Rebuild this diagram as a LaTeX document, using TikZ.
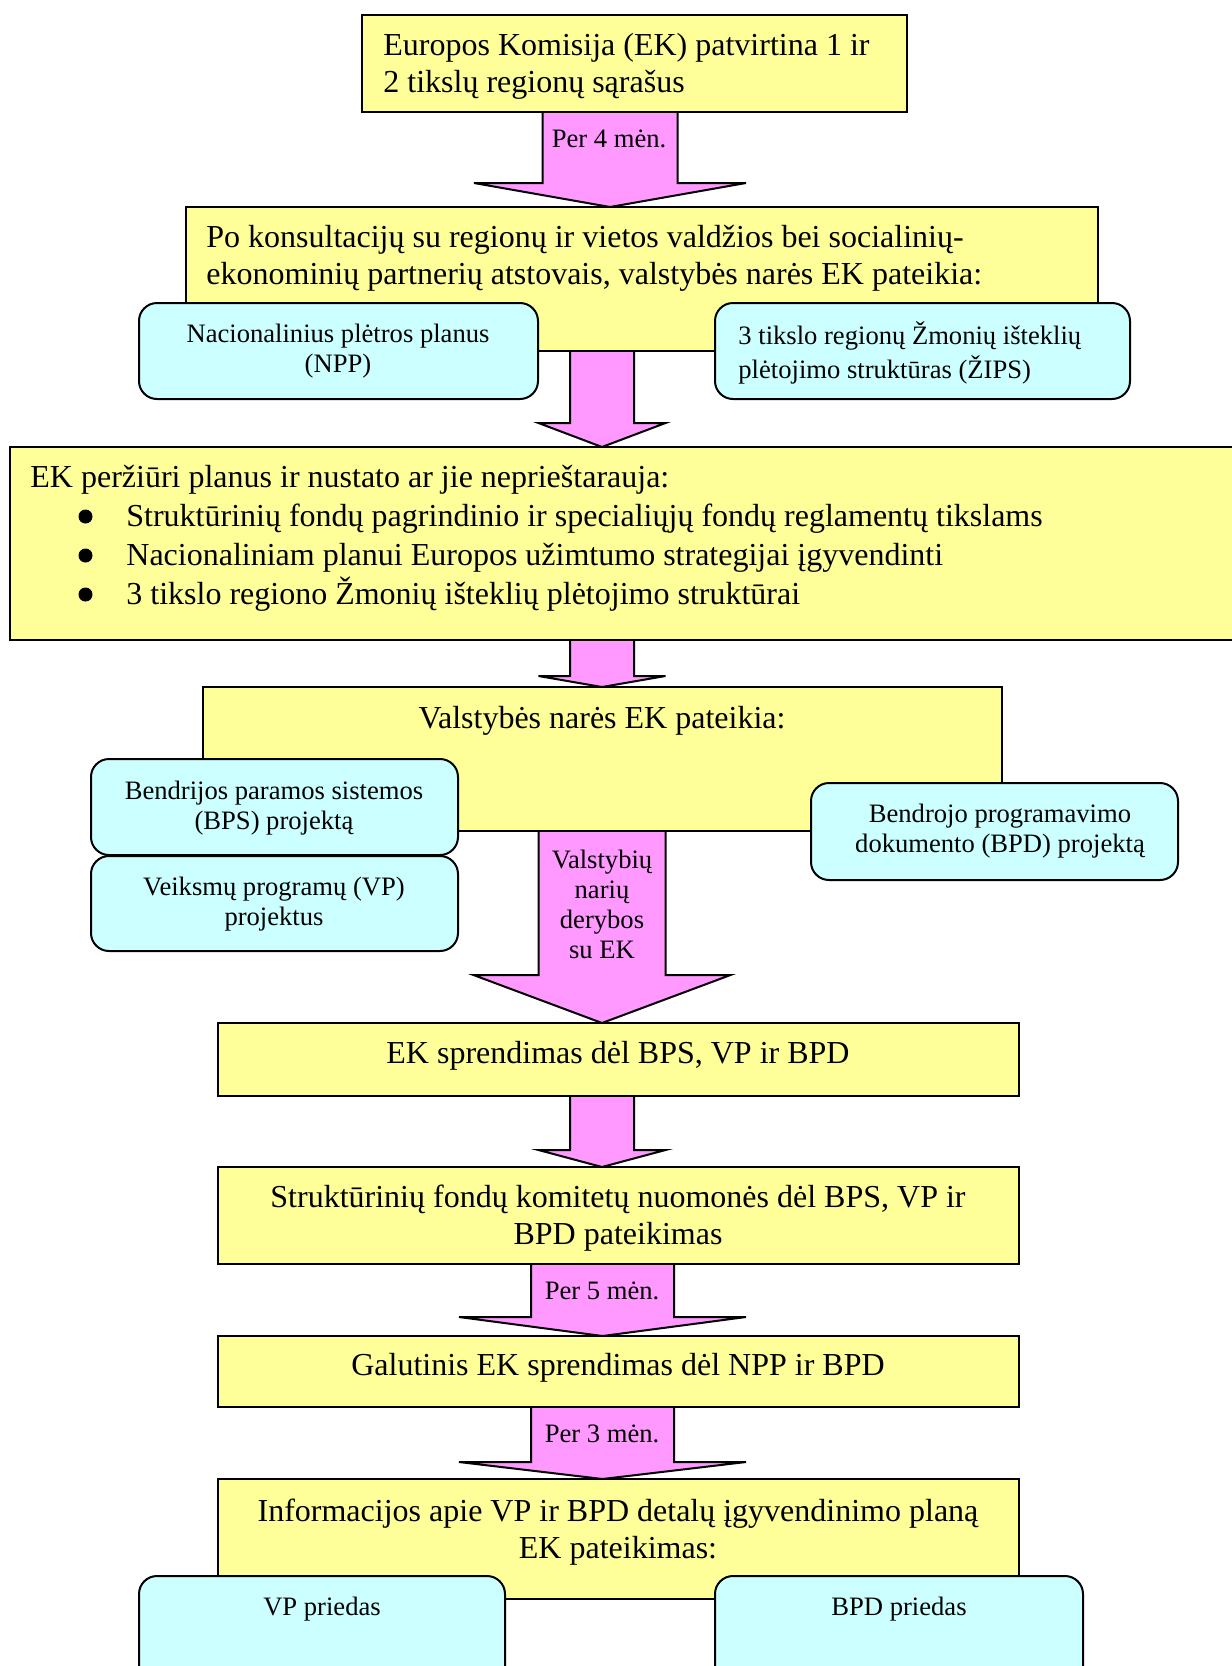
\documentclass[tikz,border=0pt]{standalone}
\usepackage{fontspec}
\setmainfont{Liberation Serif}
\usetikzlibrary{calc,backgrounds}
\definecolor{boxyellow}{HTML}{FFFF99}
\definecolor{arrowpink}{HTML}{FF99FF}
\definecolor{boxcyan}{HTML}{CCFFFF}
\tikzset{
  ybox/.style={draw=black, fill=boxyellow, line width=1pt, rectangle, inner sep=0pt, outer sep=0pt, anchor=north west},
  cbox/.style={draw=black, fill=boxcyan, line width=1pt, rectangle, rounded corners=9pt, inner sep=0pt, outer sep=0pt, anchor=north west},
  barrow/.style={draw=black, fill=arrowpink, line width=1pt, line join=miter},
  bigtext/.style={font=\fontsize{16}{18.5}\selectfont, inner sep=0pt},
  smalltext/.style={font=\fontsize{13.3}{15}\selectfont, inner sep=0pt},
  bulletdot/.style={circle, fill=black, draw=none, minimum size=7pt, inner sep=0pt},
}
% style, name, x1, y1, x2, y2 (px, y downwards)
\newcommand{\mkbox}[6]{%
  \node[#1, minimum width={(#5-#3)*0.5pt}, minimum height={(#6-#4)*0.5pt}] (#2) at (#3,#4) {};}
% name, from, to, axis x, shaft half width, head half width, head length
\newcommand{\blockarrow}[7]{%
  \coordinate (#1) at (#4,0);
  \filldraw[barrow] ($(#2.south -| #1)+(-#5,0)$) -- ($(#3.north -| #1)+(-#5,-#7)$)
    -- ($(#3.north -| #1)+(-#6,-#7)$) -- (#3.north -| #1)
    -- ($(#3.north -| #1)+(#6,-#7)$) -- ($(#3.north -| #1)+(#5,-#7)$)
    -- ($(#2.south -| #1)+(#5,0)$);}
\begin{document}
\begin{tikzpicture}[x=0.5pt,y=-0.5pt]
\useasboundingbox (0,0) rectangle (1232,1666);
\clip (0,0) rectangle (1232,1666);
% yellow boxes
\mkbox{ybox}{B1}{362}{15}{907}{112}
\mkbox{ybox}{B2}{186}{207}{1098}{351}
\mkbox{ybox}{B3}{10}{447}{1250}{640}
\mkbox{ybox}{B4}{203}{687}{1002}{831}
\mkbox{ybox}{B5}{218}{1023}{1019}{1096}
\mkbox{ybox}{B6}{218}{1167}{1019}{1264}
\mkbox{ybox}{B7}{218}{1336}{1019}{1407}
\mkbox{ybox}{B8}{218}{1479}{1019}{1599}
% cyan boxes
\mkbox{cbox}{C1}{139}{303}{538}{399}
\mkbox{cbox}{C2}{715}{303}{1130}{399}
\mkbox{cbox}{C3}{91}{759}{458}{855}
\mkbox{cbox}{C4}{91}{856}{458}{951}
\mkbox{cbox}{C5}{811}{783}{1178}{880}
\mkbox{cbox}{C6}{139}{1576}{505}{1700}
\mkbox{cbox}{C7}{715}{1576}{1083}{1700}
% block arrows
\begin{scope}[on background layer]
\blockarrow{ax1}{B1}{B2}{610}{67.5}{136}{24}
\blockarrow{ax2}{B2}{B3}{602}{32}{63.5}{24}
\blockarrow{ax3}{B3}{B4}{602}{32}{63.5}{11}
\blockarrow{ax4}{B4}{B5}{602}{63.5}{128.5}{48}
\blockarrow{ax5}{B5}{B6}{602}{32}{63.5}{17}
\blockarrow{ax6}{B6}{B7}{602.5}{71.5}{143.5}{19}
\blockarrow{ax7}{B7}{B8}{602.5}{71.5}{143.5}{17}
\end{scope}
% texts
\node[bigtext, anchor=north west, align=left] (t1) at (383,29) {\strut Europos Komisija (EK) patvirtina 1 ir\\2 tikslų regionų sąrašus};
\node[smalltext, anchor=base] (l1) at (609,147) {Per 4 mėn.};
\node[bigtext, anchor=north west, align=left] (t2) at (206,221) {\strut Po konsultacijų su regionų ir vietos valdžios bei socialinių-\\ekonominių partnerių atstovais, valstybės narės EK pateikia:};
\node[smalltext, anchor=north, align=center] (c1t) at (338,321) {\strut Nacionalinius plėtros planus\\(NPP)};
\node[smalltext, anchor=north west, align=left] (c2t) at (738,321) {\strut 3 tikslo regionų Žmonių išteklių\\plėtojimo struktūras (ŽIPS)};
\node[bigtext, anchor=base west] (t3) at (30,487) {EK peržiūri planus ir nustato ar jie neprieštarauja:};
\node[bulletdot] (d1) at (85.5,516.5) {};
\node[bigtext, anchor=base west] (i1) at (126,526) {Struktūrinių fondų pagrindinio ir specialiųjų fondų reglamentų tikslams};
\node[bulletdot] (d2) at (85.5,555.5) {};
\node[bigtext, anchor=base west] (i2) at (126,565) {Nacionaliniam planui Europos užimtumo strategijai įgyvendinti};
\node[bulletdot] (d3) at (85.5,594.5) {};
\node[bigtext, anchor=base west] (i3) at (126,604) {3 tikslo regiono Žmonių išteklių plėtojimo struktūrai};
\node[bigtext, anchor=base] (t4) at (602,728) {Valstybės narės EK pateikia:};
\node[smalltext, anchor=north, align=center] (c3t) at (274,778) {\strut Bendrijos paramos sistemos\\(BPS) projektą};
\node[smalltext, anchor=north, align=center] (c4t) at (274,874) {\strut Veiksmų programų (VP)\\projektus};
\node[smalltext, anchor=north, align=center] (c5t) at (1000,801) {\strut Bendrojo programavimo\\dokumento (BPD) projektą};
\node[smalltext, anchor=north, align=center] (l4) at (602,847) {\strut Valstybių\\narių\\derybos\\su EK};
\node[bigtext, anchor=base] (t5) at (618,1063) {EK sprendimas dėl BPS, VP ir BPD};
\node[bigtext, anchor=north, align=center] (t6) at (618,1181) {\strut Struktūrinių fondų komitetų nuomonės dėl BPS, VP ir\\BPD pateikimas};
\node[smalltext, anchor=base] (l6) at (602,1299) {Per 5 mėn.};
\node[bigtext, anchor=base] (t7) at (618,1375) {Galutinis EK sprendimas dėl NPP ir BPD};
\node[smalltext, anchor=base] (l7) at (602,1442) {Per 3 mėn.};
\node[bigtext, anchor=north, align=center] (t8) at (618,1495) {\strut Informacijos apie VP ir BPD detalų įgyvendinimo planą\\EK pateikimas:};
\node[smalltext, anchor=base] (c6t) at (322,1615) {VP priedas};
\node[smalltext, anchor=base] (c7t) at (899,1615) {BPD priedas};
\end{tikzpicture}
\end{document}
